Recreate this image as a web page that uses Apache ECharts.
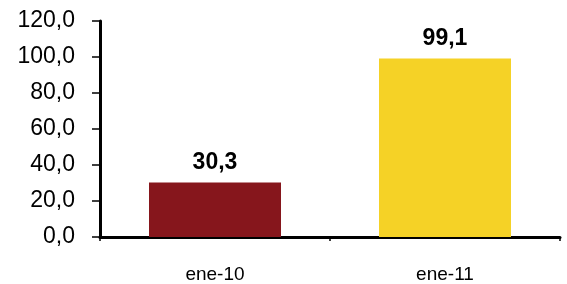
<!DOCTYPE html>
<html>
<head>
<meta charset="utf-8">
<script src="https://cdn.jsdelivr.net/npm/echarts@6/dist/echarts.min.js"></script>
<style>
html,body{margin:0;padding:0;background:#fff;}
#chart{width:567px;height:284px;}
</style>
</head>
<body>
<div id="chart"></div>
<script>
var categories = ['ene-10', 'ene-11'];
var values = [30.3, 99.1];
var barColors = ['#86161C', '#F5D226'];

var chart = echarts.init(document.getElementById('chart'));
function fmt(v) { return v.toFixed(1).replace('.', ','); }

var option = {
    animation: false,
    grid: { left: 100, right: 7, top: 21, bottom: 46 },
    xAxis: {
        type: 'category',
        data: categories,
        axisLine: { lineStyle: { color: '#000', width: 3 } },
        axisTick: { show: true, length: 4, lineStyle: { color: '#000', width: 1.5 } },
        axisLabel: { color: '#000', fontSize: 19, fontFamily: 'Liberation Sans', margin: 28 }
    },
    yAxis: {
        type: 'value',
        min: 0, max: 120, interval: 20,
        axisLine: { show: true, lineStyle: { color: '#000', width: 3 } },
        axisTick: { show: true, length: 8, lineStyle: { color: '#000', width: 1.5 } },
        splitLine: { show: false },
        axisLabel: {
            color: '#000', fontSize: 23, fontFamily: 'Liberation Sans', margin: 25,
            formatter: function (v) { return fmt(v); }
        }
    },
    series: [{
        type: 'bar',
        barWidth: 132,
        data: values.map(function (v, i) {
            return { value: v, itemStyle: { color: barColors[i] } };
        }),
        label: {
            show: true, position: 'top', distance: 8,
            color: '#000', fontSize: 23, fontWeight: 'bold', fontFamily: 'Liberation Sans',
            formatter: function (p) { return fmt(p.value); }
        }
    }]
};
chart.setOption(option);
</script>
</body>
</html>
